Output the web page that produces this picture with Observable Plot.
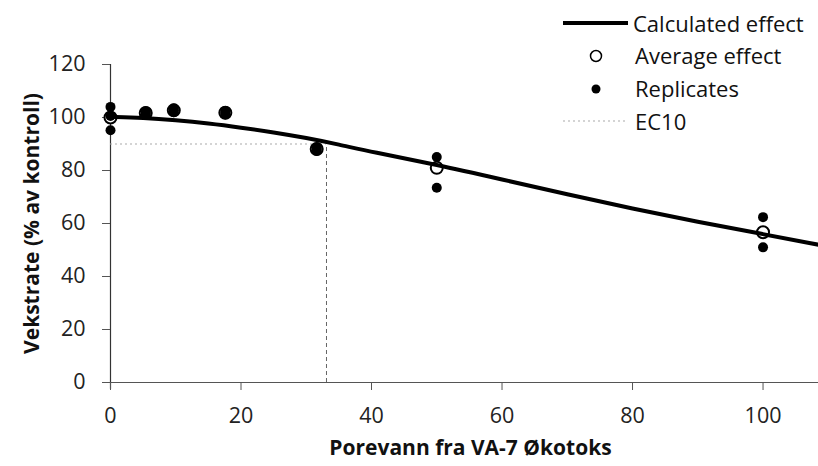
<!DOCTYPE html>
<html>
<head>
<meta charset="utf-8">
<script src="https://cdn.jsdelivr.net/npm/d3@7"></script>
<script src="https://cdn.jsdelivr.net/npm/@observablehq/plot@0.6"></script>
<style>
  html, body { margin: 0; padding: 0; background: #fff; }
  #wrap { position: relative; width: 818px; height: 466px; font-family: "Open Sans", sans-serif; }
  #legend { position: absolute; left: 560px; top: 8px; font-size: 22px; color: #111; }
  .row { position: absolute; height: 30px; white-space: nowrap; }
  .row span.t { position: absolute; top: 0; line-height: 30px; }
</style>
</head>
<body>
<div id="wrap">
  <div id="chart"></div>
  <div id="legend"></div>
</div>
<script>
// Concentrations (% pore water)
const concentrations = [0, 5.4, 9.7, 17.6, 31.6, 50, 100];
// Average effect per concentration (% of control)
const averages = [100.0, 101.7, 102.7, 101.8, 88.1, 81.0, 56.7];
// Replicates (concentration, value)
const replicateConc = [0, 0, 0, 5.4, 5.4, 5.4, 9.7, 9.7, 9.7, 17.6, 17.6, 17.6, 31.6, 31.6, 31.6, 50, 50, 100, 100];
const replicateVals = [104.0, 100.6, 95.2, 101.0, 101.7, 102.4, 102.0, 102.7, 103.4, 101.1, 101.8, 102.5, 87.4, 88.1, 88.8, 85.1, 73.5, 62.4, 51.0];
// Calculated effect curve
const curveX = [0, 5, 10, 15, 20, 25, 30, 35, 40, 50, 60, 70, 80, 90, 100, 108.5];
const curveY = [100.3, 99.9, 99.0, 97.8, 96.2, 94.4, 92.3, 89.8, 87.0, 82.2, 76.6, 71.0, 65.6, 60.6, 56.0, 52.0];
// EC10
const ec10X = 33.1;
const ec10Y = 90;
const xTicks = [0, 20, 40, 60, 80, 100];
const yTicks = [0, 20, 40, 60, 80, 100, 120];

const avgData = concentrations.map((c, i) => ({x: c, y: averages[i]}));
const repData = replicateConc.map((c, i) => ({x: c, y: replicateVals[i]}));
const curveData = curveX.map((c, i) => ({x: c, y: curveY[i]}));

const plot = Plot.plot({
  width: 818,
  height: 466,
  marginLeft: 110,
  marginRight: 0,
  marginTop: 64,
  marginBottom: 84,
  style: {fontFamily: "'Open Sans', sans-serif", fontSize: "21px", color: "#222", background: "white"},
  x: {domain: [0, 108.5]},
  y: {domain: [0, 120]},
  marks: [
    // axis lines
    Plot.ruleY([0], {x1: -1.1, x2: 108.5, stroke: "#555", strokeWidth: 1.2, clip: false}),
    Plot.ruleX([0], {y1: -2.5, y2: 120, stroke: "#333", strokeWidth: 1.2}),
    Plot.axisX({ticks: xTicks, tickSize: 8, stroke: "#555", text: null, label: null}),
    Plot.axisY({ticks: yTicks, tickSize: 8, stroke: "#555", text: null, label: null}),
    // tick labels
    Plot.text(xTicks, {x: d => d, y: 0, dy: 34, lineAnchor: "middle", textAnchor: "middle", fontSize: 21.5, fill: "#222"}),
    Plot.text(yTicks, {x: 0, y: d => d, dx: -25, textAnchor: "end", lineAnchor: "middle", fontSize: 21.5, fill: "#222"}),
    // EC10 lines
    Plot.ruleY([ec10Y], {x1: 0, x2: ec10X, stroke: "#aaa", strokeWidth: 1.2, strokeDasharray: "2,3"}),
    Plot.ruleX([ec10X], {y1: 0, y2: ec10Y, stroke: "#666", strokeWidth: 1, strokeDasharray: "4,3"}),
    // averages (open circles)
    Plot.dot(avgData, {x: "x", y: "y", r: 6, fill: "white", stroke: "black", strokeWidth: 2}),
    // calculated curve
    Plot.line(curveData, {x: "x", y: "y", stroke: "black", strokeWidth: 4, curve: "basis"}),
    // replicates
    Plot.dot(repData, {x: "x", y: "y", r: 5, fill: "black"}),
    // axis titles
    Plot.text(["Porevann fra VA-7 Økotoks"], {frameAnchor: "bottom", dx: 6, dy: 66, lineAnchor: "middle", fontWeight: "bold", fontSize: 21, fill: "#111"}),
    Plot.text(["Vekstrate (% av kontroll)"], {frameAnchor: "left", dx: -78, rotate: -90, textAnchor: "middle", fontWeight: "bold", fontSize: 21, fill: "#111"})
  ]
});
document.getElementById("chart").appendChild(plot);

// Legend (HTML)
const legend = document.getElementById("legend");
const items = [
  {label: "Calculated effect", kind: "line", top: 0},
  {label: "Average effect", kind: "open", top: 32},
  {label: "Replicates", kind: "dot", top: 65},
  {label: "EC10", kind: "dash", top: 98}
];
for (const it of items) {
  const row = document.createElement("div");
  row.className = "row";
  row.style.top = it.top + "px";
  row.style.left = "0px";
  const sw = document.createElementNS("http://www.w3.org/2000/svg", "svg");
  sw.setAttribute("width", 70); sw.setAttribute("height", 30);
  sw.style.position = "absolute"; sw.style.left = "0px"; sw.style.top = "0px";
  let inner = "";
  if (it.kind === "line") inner = '<line x1="3" x2="68" y1="15" y2="15" stroke="black" stroke-width="4"/>';
  if (it.kind === "open") inner = '<circle cx="36" cy="16" r="5.5" fill="white" stroke="black" stroke-width="1.5"/>';
  if (it.kind === "dot") inner = '<circle cx="36" cy="16" r="4.5" fill="black"/>';
  if (it.kind === "dash") inner = '<line x1="3" x2="68" y1="15" y2="15" stroke="#aaa" stroke-width="1.2" stroke-dasharray="2,3"/>';
  sw.innerHTML = inner;
  row.appendChild(sw);
  const t = document.createElement("span");
  t.className = "t";
  t.textContent = it.label;
  t.style.left = (it.kind === "line" ? 73 : 75) + "px";
  row.appendChild(t);
  legend.appendChild(row);
}
</script>
</body>
</html>
